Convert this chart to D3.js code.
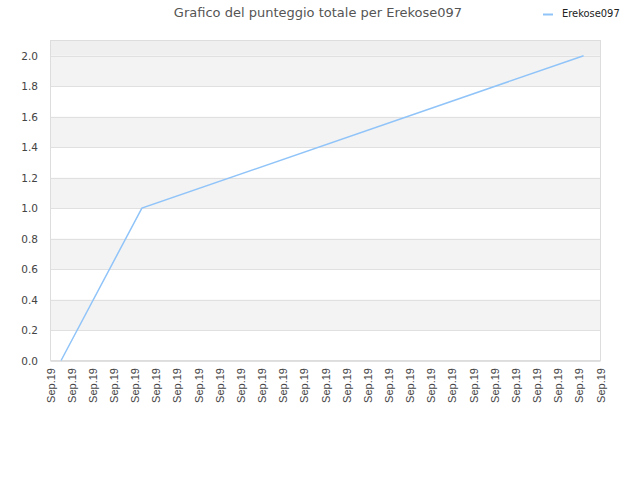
<!DOCTYPE html>
<html><head><meta charset="utf-8">
<script src="https://cdn.jsdelivr.net/npm/d3@7"></script>
<style>body{margin:0;background:#fff}</style>
</head><body>
<svg id="c" width="640" height="480"></svg>
<script>
const titleText = "Grafico del punteggio totale per Erekose097";
const seriesName = "Erekose097";
const xTickLabels = Array.from({length: 27}, () => "Sep.19");
const xPositions = [0.5, 4.32, 25.2];
const scores = [0, 1.0, 2.0];
const yTicks = [0, 0.2, 0.4, 0.6, 0.8, 1.0, 1.2, 1.4, 1.6, 1.8, 2.0];

const svg = d3.select("#c");
const L = 50.5, R = 600.5, T = 40.5, B = 360.5;
const x = d3.scaleLinear().domain([0, 26]).range([L, R]);
const y = d3.scaleLinear().domain([0, 2.1]).range([B, T]);

// bands
const bands = [];
for (let i = 0; i < yTicks.length - 1; i++) {
  if (i % 2 === 1) bands.push([yTicks[i], yTicks[i + 1]]);
}
svg.append("rect").attr("x", L).attr("y", T).attr("width", R - L).attr("height", y(2.0) - T).attr("fill", "#efefef");
svg.selectAll("rect.band").data(bands).enter().append("rect")
  .attr("class", "band")
  .attr("x", L).attr("width", R - L)
  .attr("y", d => y(d[1])).attr("height", d => y(d[0]) - y(d[1]))
  .attr("fill", "#f3f3f3");

// grid
svg.selectAll("line.grid").data(yTicks).enter().append("line")
  .attr("x1", L).attr("x2", R)
  .attr("y1", d => Math.round(y(d)) + 0.5).attr("y2", d => Math.round(y(d)) + 0.5)
  .attr("stroke", "#e0e0e0").attr("stroke-width", 1);

// frame
svg.append("rect").attr("x", L).attr("y", T).attr("width", R - L).attr("height", B - T)
  .attr("fill", "none").attr("stroke", "#dddddd");

// y labels
svg.selectAll("text.yl").data(yTicks).enter().append("text")
  .attr("x", 38).attr("y", d => y(d) + 4)
  .attr("text-anchor", "end")
  .attr("font-family", "DejaVu Sans").attr("font-size", 10.5).attr("fill", "#444")
  .text(d => d.toFixed(1));

// x labels
svg.selectAll("text.xl").data(xTickLabels).enter().append("text")
  .attr("transform", (d, i) => `translate(${x(i) + 4},368) rotate(-90)`)
  .attr("text-anchor", "end")
  .attr("font-family", "Liberation Sans").attr("font-size", 11).attr("fill", "#444")
  .text(d => d);

// line
const pts = xPositions.map((v, i) => [v, scores[i]]);
svg.append("path").datum(pts)
  .attr("d", d3.line().x(d => x(d[0])).y(d => y(d[1])))
  .attr("fill", "none").attr("stroke", "#90c4f9").attr("stroke-width", 1.5);

// title
svg.append("text").attr("x", 318).attr("y", 17).attr("text-anchor", "middle")
  .attr("font-family", "DejaVu Sans").attr("font-size", 13).attr("fill", "#555")
  .text(titleText);

// legend
svg.append("line").attr("x1", 543).attr("x2", 553).attr("y1", 14.5).attr("y2", 14.5)
  .attr("stroke", "#90c4f9").attr("stroke-width", 2);
svg.append("text").attr("x", 562).attr("y", 17)
  .attr("font-family", "DejaVu Sans Condensed").attr("font-size", 11).attr("fill", "#222")
  .text(seriesName);
</script>
</body></html>
